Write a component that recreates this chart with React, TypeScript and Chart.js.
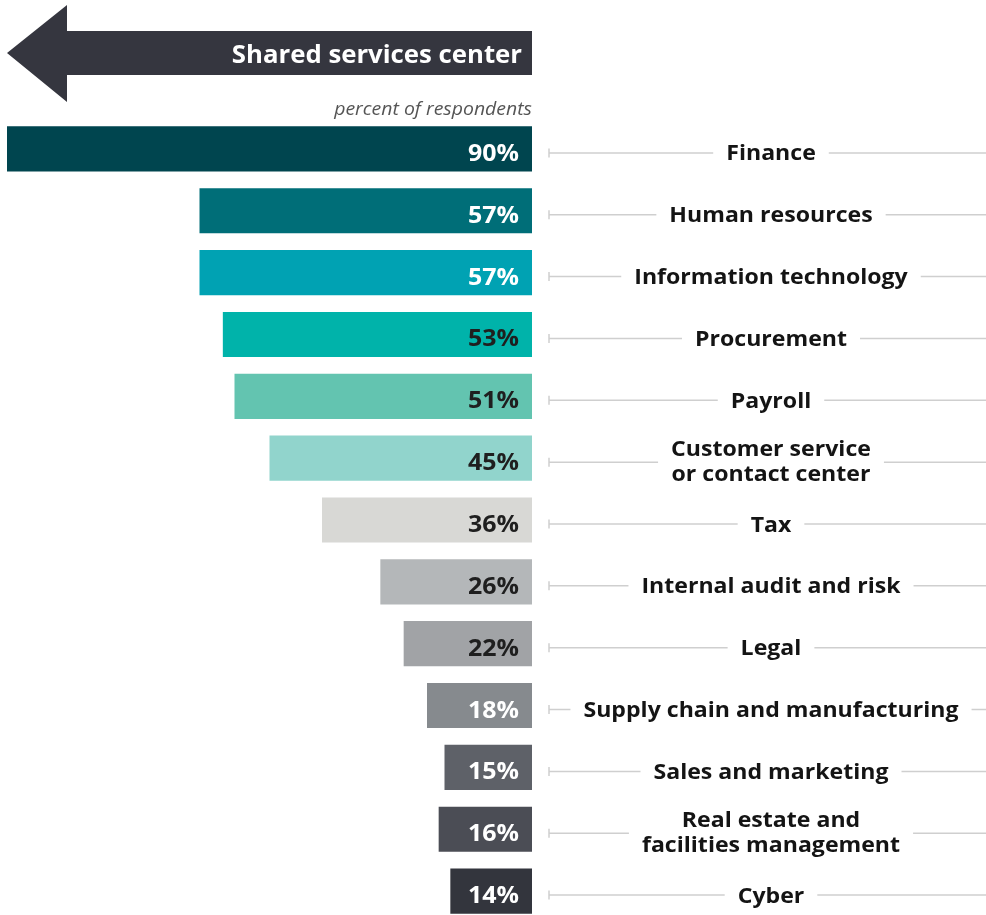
import { useEffect, useRef } from "react";
import { Chart, registerables } from "chart.js";

Chart.register(...registerables);

const title = "Shared services center";
const subtitle = "percent of respondents";

const categories: string[][] = [
  ["Finance"],
  ["Human resources"],
  ["Information technology"],
  ["Procurement"],
  ["Payroll"],
  ["Customer service", "or contact center"],
  ["Tax"],
  ["Internal audit and risk"],
  ["Legal"],
  ["Supply chain and manufacturing"],
  ["Sales and marketing"],
  ["Real estate and", "facilities management"],
  ["Cyber"],
];

const values: number[] = [90, 57, 57, 53, 51, 45, 36, 26, 22, 18, 15, 16, 14];

const barColors: string[] = [
  "#00454f",
  "#006e78",
  "#00a2b3",
  "#00b3aa",
  "#63c4b0",
  "#91d4cc",
  "#d8d8d5",
  "#b4b7b9",
  "#a1a3a6",
  "#868a8e",
  "#5e6168",
  "#4b4d55",
  "#33353d",
];

const valueTextColors: string[] = [
  "#ffffff",
  "#ffffff",
  "#ffffff",
  "#1f1f1f",
  "#1f1f1f",
  "#1f1f1f",
  "#1f1f1f",
  "#1f1f1f",
  "#1f1f1f",
  "#ffffff",
  "#ffffff",
  "#ffffff",
  "#ffffff",
];

const FONT = '"Open Sans", "Noto Sans", sans-serif';

function drawText(
  ctx: CanvasRenderingContext2D,
  text: string,
  x: number,
  y: number,
  align: CanvasTextAlign,
  sx: number
) {
  ctx.save();
  ctx.translate(x, y);
  ctx.scale(sx, 1);
  ctx.textAlign = align;
  ctx.textBaseline = "alphabetic";
  ctx.fillText(text, 0, 0);
  ctx.restore();
}

const decorPlugin = {
  id: "decor",
  afterDatasetsDraw(chart: any) {
    const ctx = chart.ctx as CanvasRenderingContext2D;
    const area = chart.chartArea;
    const right = area.right;
    ctx.save();

    // header arrow
    ctx.fillStyle = "#35363f";
    ctx.beginPath();
    ctx.moveTo(7, 53);
    ctx.lineTo(67, 5);
    ctx.lineTo(67, 31);
    ctx.lineTo(right, 31);
    ctx.lineTo(right, 75);
    ctx.lineTo(67, 75);
    ctx.lineTo(67, 102);
    ctx.closePath();
    ctx.fill();

    ctx.fillStyle = "#ffffff";
    ctx.font = `bold 25px ${FONT}`;
    drawText(ctx, title, right - 10, 63, "right", 1.03);

    ctx.fillStyle = "#555555";
    ctx.font = `italic 18px ${FONT}`;
    drawText(ctx, subtitle, right, 115, "right", 1.08);

    const meta = chart.getDatasetMeta(0);
    const LSX = 1.1;
    meta.data.forEach((bar: any, i: number) => {
      const { y, base } = bar.getProps(["y", "base"], true);
      // value label inside bar
      ctx.font = `bold 23px ${FONT}`;
      ctx.fillStyle = valueTextColors[i];
      drawText(ctx, values[i] + "%", base - 13, y + 12, "right", 1.085);

      // category label + leader line
      const lines = categories[i];
      const ly = y + 4;
      const cx = 771;
      ctx.font = `bold 21px ${FONT}`;
      let w = 0;
      lines.forEach((t) => {
        w = Math.max(w, ctx.measureText(t).width * LSX);
      });
      ctx.strokeStyle = "#cfcfcf";
      ctx.lineWidth = 1.5;
      ctx.beginPath();
      ctx.moveTo(549, ly);
      ctx.lineTo(cx - w / 2 - 13, ly);
      ctx.moveTo(cx + w / 2 + 13, ly);
      ctx.lineTo(986, ly);
      ctx.moveTo(549, ly - 4.5);
      ctx.lineTo(549, ly + 4.5);
      ctx.stroke();

      ctx.fillStyle = "#141414";
      const n = lines.length;
      lines.forEach((t, k) => {
        const by = n === 1 ? y + 11.5 : y + 10 + (k - (n - 1) / 2) * 25;
        drawText(ctx, t, cx, by, "center", LSX);
      });
    });
    ctx.restore();
  },
};

export default function App() {
  const ref = useRef<HTMLCanvasElement | null>(null);

  useEffect(() => {
    document.body.style.margin = "0";
    const canvas = ref.current;
    if (!canvas) return;
    const chart = new Chart(canvas, {
      type: "bar",
      data: {
        labels: categories.map((c) => c.join(" ")),
        datasets: [
          {
            data: values,
            backgroundColor: barColors,
            borderWidth: 0,
            barPercentage: 0.73,
            categoryPercentage: 1,
          },
        ],
      },
      options: {
        indexAxis: "y",
        responsive: false,
        animation: false,
        devicePixelRatio: 1,
        layout: { padding: { left: 7, right: 454, top: 118, bottom: 8 } },
        scales: {
          x: { type: "linear", min: 0, max: 90, reverse: true, display: false },
          y: { type: "category", display: false, offset: true },
        },
        plugins: {
          legend: { display: false },
          tooltip: { enabled: false },
          title: { display: false },
        },
      },
      plugins: [decorPlugin],
    });
    return () => chart.destroy();
  }, []);

  return (
    <div style={{ width: 986, height: 915, overflow: "hidden", position: "relative", background: "#ffffff" }}>
      <canvas ref={ref} width={986} height={930} style={{ display: "block" }} />
    </div>
  );
}
